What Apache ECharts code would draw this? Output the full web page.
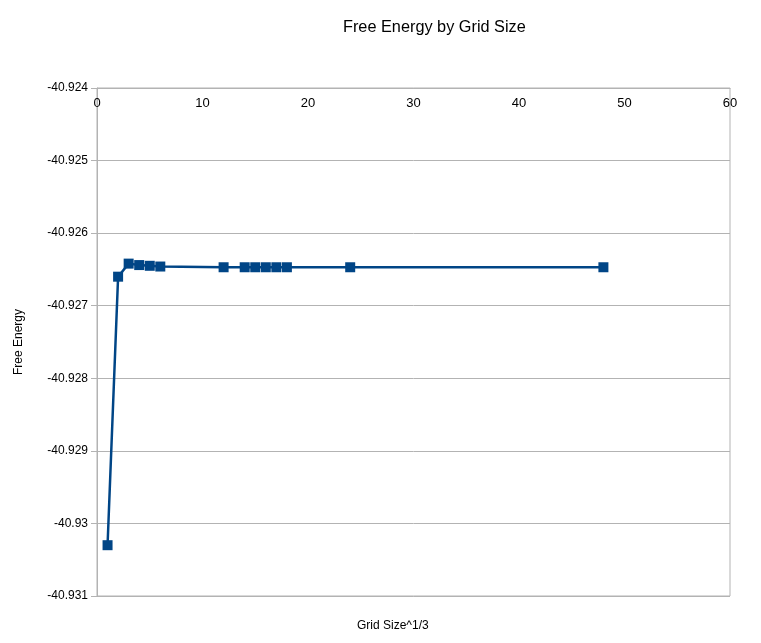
<!DOCTYPE html>
<html>
<head>
<meta charset="utf-8">
<script src="https://cdn.jsdelivr.net/npm/echarts@6/dist/echarts.min.js"></script>
<style>html,body{margin:0;padding:0;background:#fff}#c{width:761px;height:643px}</style>
</head>
<body>
<div id="c"></div>
<script>
const gridSize = [1, 2, 3, 4, 5, 6, 12, 14, 15, 16, 17, 18, 24, 48];
const freeEnergy = [-40.9303, -40.9266, -40.92642, -40.92644, -40.92645, -40.92646, -40.92647, -40.92647, -40.92647, -40.92647, -40.92647, -40.92647, -40.92647, -40.92647];
const titleText = "Free Energy by Grid Size";
const xName = "Grid Size^1/3";
const yName = "Free Energy";

const chart = echarts.init(document.getElementById('c'));
const font = "'Liberation Sans', Arial, sans-serif";
chart.setOption({
  animation: false,
  backgroundColor: '#fff',
  title: {
    text: titleText, left: 338, top: 15,
    textStyle: { fontFamily: font, fontSize: 16.3, fontWeight: 'normal', color: '#000' }
  },
  grid: { left: 97, right: 31, top: 88, bottom: 47, show: true, borderColor: '#b3b3b3', borderWidth: 1, outerBoundsMode: 'none', containLabel: false },
  xAxis: {
    type: 'value', min: 0, max: 60, interval: 10, position: 'top',
    axisLine: { show: true, lineStyle: { color: '#b3b3b3' } },
    axisTick: { show: false },
    splitLine: { show: false },
    axisLabel: { inside: true, margin: 9, color: '#000', fontFamily: font, fontSize: 13 }
  },
  yAxis: {
    type: 'value', min: -40.931, max: -40.924, interval: 0.001,
    name: yName, nameLocation: 'middle', nameGap: 72, nameRotate: 90,
    nameTextStyle: { fontFamily: font, fontSize: 12, color: '#000' },
    axisLine: { show: true, lineStyle: { color: '#b3b3b3' } },
    axisTick: { show: true, length: 6, lineStyle: { color: '#b3b3b3' } },
    splitLine: { show: true, lineStyle: { color: '#b3b3b3' } },
    axisLabel: { margin: 9, color: '#000', fontFamily: font, fontSize: 12,
      formatter: v => String(parseFloat(v.toFixed(3))) }
  },
  graphic: [{
    type: 'text', left: 357, top: 620,
    style: { text: xName, fill: '#000', font: "12px 'Liberation Sans', Arial, sans-serif" }
  }],
  series: [{
    type: 'line',
    data: gridSize.map((x, i) => [x, freeEnergy[i]]),
    symbol: 'rect', symbolSize: 10,
    itemStyle: { color: '#004586' },
    lineStyle: { color: '#004586', width: 2.5 }
  }]
});
</script>
</body>
</html>
